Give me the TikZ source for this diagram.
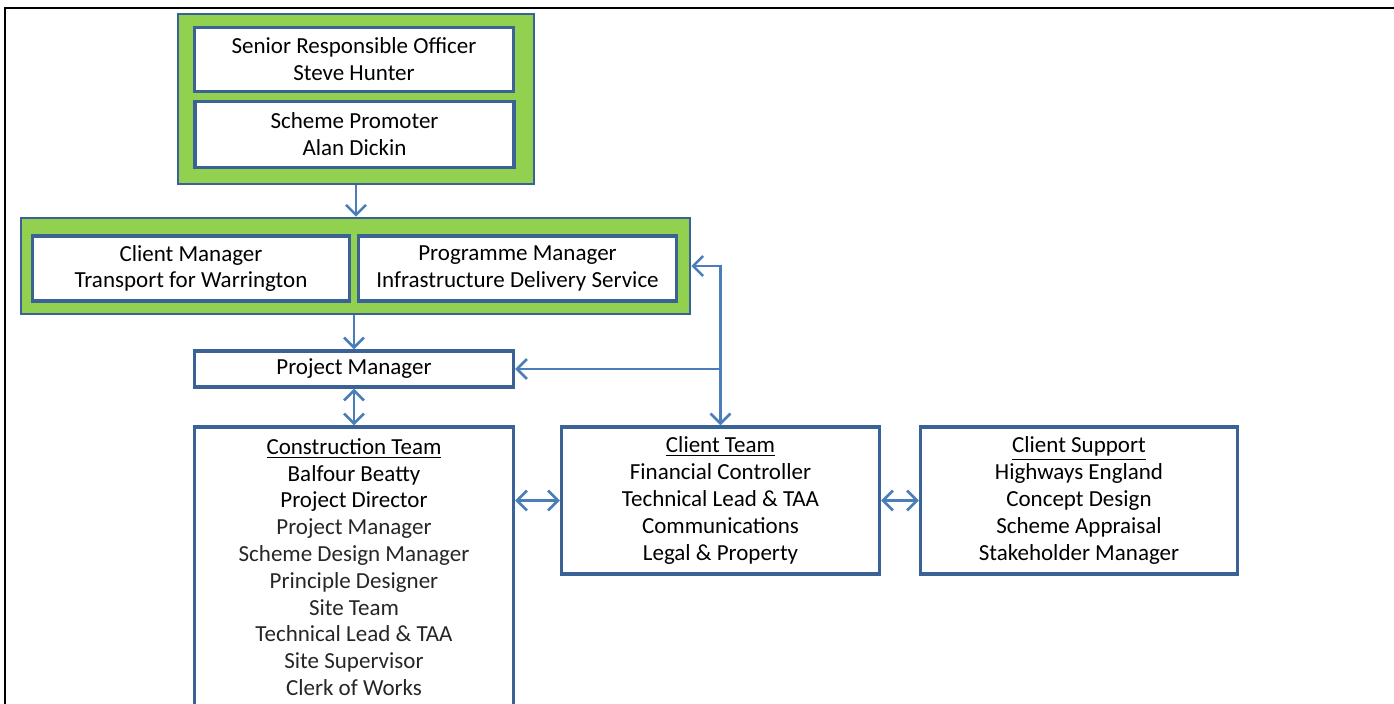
\documentclass[tikz,border=0pt]{standalone}
\usepackage{fontspec}
\setmainfont{Carlito}
\usetikzlibrary{arrows.meta}

\definecolor{boxblue}{HTML}{3B6296}
\definecolor{linkblue}{HTML}{4A7EBB}
\definecolor{leafgreen}{HTML}{92D050}

\begin{document}
\begin{tikzpicture}
    [
        x=0.5pt, y=-0.5pt,
        role/.style={rectangle, draw=boxblue, line width=1.6pt, fill=white, align=center, inner sep=0pt, font=\fontsize{11.5}{13.4}\selectfont},
        group/.style={rectangle, draw=boxblue, line width=1.3pt, fill=leafgreen, inner sep=0pt},
        link/.style={draw=linkblue, line width=1.3pt, -{Straight Barb[length=5pt, width=10pt]}},
        both/.style={draw=linkblue, line width=1.3pt, {Straight Barb[length=5pt, width=10pt]}-{Straight Barb[length=5pt, width=10pt]}}
    ]

    \useasboundingbox (0,0) rectangle (1394,704);
    \clip (0,0) rectangle (1394,704);

    \draw[line width=1.2pt] (5,710) -- (5,8) -- (1394,8);

    \node [group, minimum width=178pt, minimum height=85pt] (board) at (356, 99) {};
    \node [role, minimum width=159.5pt, minimum height=32pt] (sro) at (354, 59.5) {Senior Responsible Officer\\Steve Hunter};
    \node [role, minimum width=159.5pt, minimum height=33pt] (promoter) at (354.5, 134.5) {Scheme Promoter\\Alan Dickin};

    \node [group, minimum width=334.5pt, minimum height=48pt] (sponsors) at (355.5, 266) {};
    \node [role, minimum width=158.5pt, minimum height=32.5pt] (client) at (191, 268.5) {Client Manager\\Transport for Warrington};
    \node [role, minimum width=159pt, minimum height=32.5pt] (programme) at (517.5, 268.5) {Programme Manager\\Infrastructure Delivery Service};

    \node [role, minimum width=159.5pt, minimum height=18pt] (project) at (354, 369) {Project Manager};

    \node [role, minimum width=159.5pt, minimum height=140pt] (construction) at (354, 567) {\underline{Construction Team}\\Balfour Beatty\\Project Director\\
        \color{black!85}Project Manager\\\color{black!85}Scheme Design Manager\\\color{black!85}Principle Designer\\\color{black!85}Site Team\\
        \color{black!85}Technical Lead \& TAA\\\color{black!85}Site Supervisor\\\color{black!85}Clerk of Works};
    \node [role, minimum width=159pt, minimum height=73.5pt] (team) at (720.5, 500.5) {\underline{Client Team}\\Financial Controller\\Technical Lead \& TAA\\Communications\\Legal \& Property};
    \node [role, minimum width=158.5pt, minimum height=73.5pt] (support) at (1079, 500.5) {\underline{Client Support}\\Highways England\\Concept Design\\Scheme Appraisal\\Stakeholder Manager};

    \draw [link] (board.south) -- (board.south |- sponsors.north);
    \draw [link] (project.north |- sponsors.south) -- (project.north);
    \draw [both] (project.south) -- (construction.north);
    \draw [both] (construction.east |- team.west) -- (team.west);
    \draw [both] (team.east) -- (support.west);
    \draw [both] (sponsors.east) -| (team.north);
    \draw [link] (team.north |- project.east) -- (project.east);
\end{tikzpicture}
\end{document}
